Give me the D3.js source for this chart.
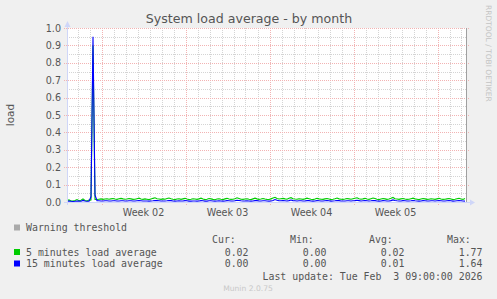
<!DOCTYPE html>
<html><head><meta charset="utf-8">
<script src="https://cdn.jsdelivr.net/npm/d3@7"></script>
<style>html,body{margin:0;padding:0;background:#f0f0f0;overflow:hidden}svg{display:block}</style>
</head><body><svg id="c" width="497" height="299"></svg>
<script>
const chartTitle = "System load average - by month";
const yAxisLabel = "load";
const yTickValues = [0, 0.1, 0.2, 0.3, 0.4, 0.5, 0.6, 0.7, 0.8, 0.9, 1.0];
const yMinorValues = [0.05, 0.15, 0.25, 0.35, 0.45, 0.55, 0.65, 0.75, 0.85, 0.95];
const startTime = "2026-01-02T03:00:00Z";
const endTime = "2026-02-04T11:00:00Z";
const stepHours = 4;
// 5 minutes load average (one sample every 4 hours)
const load5 = [
 .008,.012,.006,.005,.009,.014,.007,.010,.018,.009,.006,.011,
 .012,.900,.015,
 .014,.016,.018,.015,.017,.019,.016,.018,.020,.017,.015,.019,.021,.018,.016,.017,.020,.018,.015,.016,.019,.022,.017,.015,.018,
 .016,.014,.017,.021,.024,.019,.017,.015,.018,.016,.020,.023,.019,.016,.014,.017,.019,.015,.018,.021,.017,.014,.016,.019,.017,
 .015,.018,.022,.017,.014,.016,.020,.018,.015,.013,.017,.019,.016,.014,.018,.021,.017,.015,.016,.019,.024,.020,.016,.015,.017,
 .019,.016,.014,.018,.022,.018,.015,.017,.020,.017,.015,.014,.018,.023,.027,.020,.017,.019,.021,.018,.016,.022,.025,.019,.017,
 .016,.019,.017,.015,.018,.022,.019,.016,.014,.017,.021,.018,.016,.015,.018,.020,.017,.014,.016,.019,.023,.018,.016,.015,.017,
 .020,.018,.016,.019,.022,.024,.019,.016,.018,.021,.017,.015,.019,.023,.020,.016,.014,.017,.020,.018,.015,.017,.021,.026,.019,
 .017,.015,.018,.020,.017,.015,.016,.019,.022,.018,.016,.014,.017,.020,.018,.015,.016,.019,.017,.015,.018,.021,.017,.015,.016,
 .018,.020,.017,.014,.016,.019,.021,.017,.015,.020
];
// 15 minutes load average
const load15 = [
 .004,.005,.004,.003,.004,.006,.005,.004,.009,.006,.004,.005,
 .030,.950,.040,
 .008,.007,.006,.006,.007,.007,.006,.006,.007,.007,.006,.006,.007,.007,.006,.006,.007,.007,.006,.006,.007,.008,.007,.006,.006,
 .006,.005,.006,.007,.009,.008,.007,.006,.006,.006,.007,.009,.008,.006,.005,.006,.007,.006,.006,.008,.007,.005,.005,.006,.006,
 .005,.006,.008,.007,.005,.005,.007,.007,.006,.005,.006,.007,.006,.005,.006,.008,.007,.006,.006,.007,.010,.009,.007,.006,.006,
 .007,.006,.005,.006,.008,.008,.006,.006,.007,.007,.006,.005,.006,.009,.014,.010,.007,.007,.008,.007,.006,.008,.011,.008,.007,
 .006,.007,.007,.006,.006,.008,.008,.006,.005,.006,.008,.007,.006,.006,.007,.008,.007,.005,.006,.007,.009,.008,.006,.006,.006,
 .007,.007,.006,.007,.008,.010,.008,.006,.007,.008,.007,.006,.007,.009,.008,.006,.005,.006,.008,.007,.006,.006,.008,.012,.009,
 .007,.006,.006,.008,.007,.006,.006,.007,.009,.007,.006,.005,.006,.008,.007,.006,.006,.007,.007,.006,.007,.008,.007,.006,.006,
 .007,.008,.007,.005,.006,.007,.008,.007,.006,.005
];
const seriesNames = ["5 minutes load average", "15 minutes load average"];
const seriesColors = ["#00cc00", "#0000ff"];
const thresholdName = "Warning threshold";
const curValues = ["0.02", "0.00"];
const minValues = ["0.00", "0.00"];
const avgValues = ["0.02", "0.01"];
const maxValues = ["1.77", "1.64"];
const lastUpdate = "Last update: Tue Feb  3 09:00:00 2026";
const footer = "Munin 2.0.75";
const watermark = "RRDTOOL / TOBI OETIKER";

const svg = d3.select("#c");
const FONT = "DejaVu Sans, sans-serif";
const MONO = "DejaVu Sans Mono, monospace";
const TXT = "#555";

const t0 = new Date(startTime), t1 = new Date(endTime);
const x = d3.scaleUtc().domain([t0, t1]).range([67, 467]);
const y = d3.scaleLinear().domain([0, 1]).range([202, 28]);
const timeAt = i => new Date(t0.getTime() + i * stepHours * 3600e3);

svg.append("rect").attr("width", 497).attr("height", 299).attr("fill", "#f0f0f0");
svg.append("rect").attr("x", 67).attr("y", 28).attr("width", 400).attr("height", 174).attr("fill", "#fff");

const grid = svg.append("g").attr("shape-rendering", "crispEdges");
const minorCol = "#d4d4d4", majorCol = "#f2b3b3";
// minor grid
grid.selectAll(".hm").data(yMinorValues).join("line")
  .attr("x1", 67).attr("x2", 466).attr("y1", d => Math.round(y(d)) + 0.5).attr("y2", d => Math.round(y(d)) + 0.5)
  .attr("stroke", minorCol).attr("stroke-dasharray", "1,1");
const days = d3.utcDay.range(t0, t1).filter(d => d.getUTCDay() !== 1);
grid.selectAll(".vm").data(days).join("line")
  .attr("x1", d => Math.round(x(d)) + 0.5).attr("x2", d => Math.round(x(d)) + 0.5).attr("y1", 28).attr("y2", 202)
  .attr("stroke", minorCol).attr("stroke-dasharray", "1,1");
// major grid
grid.selectAll(".hM").data(yTickValues).join("line")
  .attr("x1", 64).attr("x2", 469).attr("y1", d => Math.round(y(d)) + 0.5).attr("y2", d => Math.round(y(d)) + 0.5)
  .attr("stroke", majorCol).attr("stroke-dasharray", "1,1");
const mondays = d3.utcMonday.range(t0, t1);
grid.selectAll(".vM").data(mondays).join("line")
  .attr("x1", d => Math.round(x(d)) + 0.5).attr("x2", d => Math.round(x(d)) + 0.5).attr("y1", 28).attr("y2", 205)
  .attr("stroke", majorCol).attr("stroke-dasharray", "1,1");

// y tick labels
svg.selectAll(".yl").data(yTickValues).join("text")
  .attr("x", 61).attr("y", d => y(d) + 3.6).attr("text-anchor", "end")
  .attr("font-family", FONT).attr("font-size", 9.6).attr("fill", TXT).text(d => d3.format(".1f")(d));
// week labels
const weekFmt = d3.utcFormat("Week %V");
const weekCenters = d3.utcMonday.range(d3.utcMonday.floor(t0), t1)
  .map(d => ({m: d, c: d3.utcHour.offset(d, 84)})).filter(o => o.c > t0 && o.c < t1);
svg.selectAll(".xl").data(weekCenters).join("text")
  .attr("x", d => x(d.c)).attr("y", 216).attr("text-anchor", "middle")
  .attr("font-family", FONT).attr("font-size", 9.6).attr("fill", TXT).text(d => weekFmt(d.m));

// data lines
const line = d3.line().x((d, i) => x(timeAt(i))).y(d => y(d));
[load5, load15].forEach((s, k) => {
  svg.append("path").datum(s).attr("d", line).attr("fill", "none")
    .attr("stroke", seriesColors[k]).attr("stroke-width", 1.1);
});

// axes
const axisCol = "#cfd6f8";
svg.append("line").attr("x1", 67.5).attr("x2", 67.5).attr("y1", 205).attr("y2", 25).attr("stroke", axisCol);
svg.append("path").attr("d", "M64.5,27 L70.5,27 L67.5,21 Z").attr("fill", axisCol);
svg.append("line").attr("x1", 64).attr("x2", 471).attr("y1", 202.5).attr("y2", 202.5).attr("stroke", axisCol);
svg.append("path").attr("d", "M470,199.5 L470,205.5 L475,202.5 Z").attr("fill", axisCol);
svg.append("line").attr("x1", 466.5).attr("x2", 466.5).attr("y1", 28).attr("y2", 202).attr("stroke", "#a0a0a0");

// title & labels
svg.append("text").attr("x", 249).attr("y", 23).attr("text-anchor", "middle")
  .attr("font-family", FONT).attr("font-size", 12.6).attr("fill", TXT).text(chartTitle);
svg.append("text").attr("transform", "translate(14,115) rotate(-90)").attr("text-anchor", "middle")
  .attr("font-family", FONT).attr("font-size", 10.5).attr("fill", TXT).text(yAxisLabel);
svg.append("text").attr("transform", "translate(486,5) rotate(90)").attr("text-anchor", "start")
  .attr("font-family", FONT).attr("font-size", 7.5).attr("fill", "#c4c4c4").text(watermark);
svg.append("text").attr("x", 248).attr("y", 291).attr("text-anchor", "middle")
  .attr("font-family", FONT).attr("font-size", 7.6).attr("fill", "#c8c8c8").text(footer);

// legend
const lg = svg.append("g").attr("font-family", MONO).attr("font-size", 9.9).attr("fill", TXT);
lg.append("rect").attr("x", 14).attr("y", 224.5).attr("width", 6).attr("height", 6).attr("fill", "#aaaaaa");
lg.append("text").attr("x", 26).attr("y", 231).text(thresholdName);
[["Cur:", 212], ["Min:", 290], ["Avg:", 369], ["Max:", 447]].forEach(h => {
  lg.append("text").attr("x", h[1]).attr("y", 243).text(h[0]);
});
const rowsY = [255.5, 267];
seriesNames.forEach((n, k) => {
  lg.append("rect").attr("x", 14).attr("y", rowsY[k] - 6.5).attr("width", 6).attr("height", 6).attr("fill", seriesColors[k]);
  lg.append("text").attr("x", 26).attr("y", rowsY[k]).text(n);
  lg.append("text").attr("x", 248.5).attr("y", rowsY[k]).attr("text-anchor", "end").text(curValues[k]);
  lg.append("text").attr("x", 326.5).attr("y", rowsY[k]).attr("text-anchor", "end").text(minValues[k]);
  lg.append("text").attr("x", 404.5).attr("y", rowsY[k]).attr("text-anchor", "end").text(avgValues[k]);
  lg.append("text").attr("x", 482.5).attr("y", rowsY[k]).attr("text-anchor", "end").text(maxValues[k]);
});
lg.append("text").attr("x", 482.5).attr("y", 279.5).attr("text-anchor", "end")
  .attr("xml:space", "preserve").style("white-space", "pre").text(lastUpdate);
</script></body></html>
